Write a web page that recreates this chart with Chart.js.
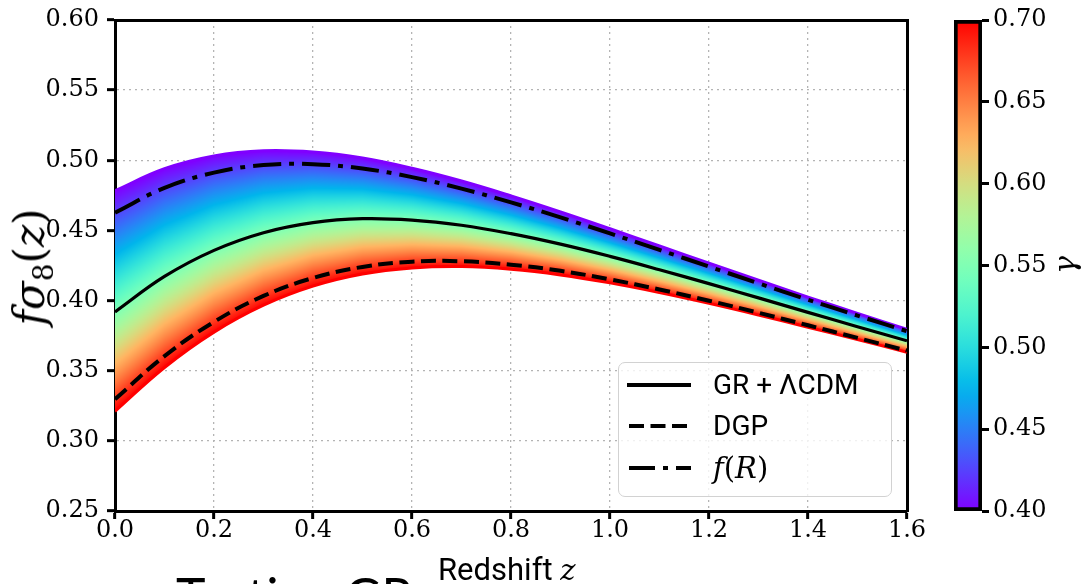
<!DOCTYPE html>
<html>
<head>
<meta charset="utf-8">
<script src="https://cdn.jsdelivr.net/npm/chart.js@4.4.1/dist/chart.umd.min.js"></script>
<style>
html,body{margin:0;padding:0;background:#fff;}
#wrap{position:relative;width:1082px;height:584px;overflow:hidden;background:#fff;}
canvas{position:absolute;top:0;}
.slide{position:absolute;left:176px;top:570px;font-family:Lato,"DejaVu Sans",sans-serif;font-size:50px;line-height:50px;color:#000;white-space:nowrap;}
.xtitle{position:absolute;left:432px;top:554px;padding:0 6px 10px 6px;background:#fff;font-family:Roboto,sans-serif;font-size:31px;line-height:31px;color:#000;white-space:nowrap;}
.xtitle i{font-family:"DejaVu Serif",serif;font-style:italic;font-size:29px;}
.ytitle{position:absolute;left:30px;top:267px;transform:translate(-50%,-50%) rotate(-90deg);font-family:"DejaVu Serif",serif;font-size:42px;line-height:42px;color:#000;white-space:nowrap;}
.ytitle sub{font-size:28px;font-style:normal;vertical-align:-9px;line-height:0;}
.cbtitle{position:absolute;left:1065px;top:265px;transform:translate(-50%,-50%) rotate(-90deg);font-family:"DejaVu Serif",serif;font-style:italic;font-size:30px;line-height:30px;color:#000;}
#legend{position:absolute;left:618px;top:362px;width:274px;height:135px;box-sizing:border-box;border:1.5px solid #d2d2d2;border-radius:7px;background:rgba(255,255,255,0.8);}
.lrow{position:absolute;left:0;height:30px;width:270px;}
.lrow svg{position:absolute;left:8px;top:10px;}
.lrow span{position:absolute;left:94px;top:0;font-family:Roboto,sans-serif;font-size:28px;line-height:30px;color:#000;white-space:nowrap;}
.lrow span.math{font-family:"DejaVu Serif",serif;font-size:29px;}
</style>
</head>
<body>
<div id="wrap">
  <div class="slide">Testing GR</div>
  <canvas id="main" width="1082" height="584" style="left:0"></canvas>
  <canvas id="cbar" width="152" height="584" style="left:930px"></canvas>
  <div class="ytitle"><i>f</i><i>σ</i><sub>8</sub>(<i>z</i>)</div>
  <div class="xtitle">Redshift <i>z</i></div>
  <div class="cbtitle">γ</div>
  <div id="legend">
    <div class="lrow" style="top:7px">
      <svg width="64" height="10"><line x1="0" y1="5" x2="64" y2="5" stroke="#000" stroke-width="4"/></svg>
      <span>GR + ΛCDM</span>
    </div>
    <div class="lrow" style="top:48px">
      <svg width="64" height="10"><line x1="2" y1="5" x2="64" y2="5" stroke="#000" stroke-width="4" stroke-dasharray="15 6.5"/></svg>
      <span>DGP</span>
    </div>
    <div class="lrow" style="top:90px">
      <svg width="64" height="10"><line x1="2" y1="5" x2="64" y2="5" stroke="#000" stroke-width="4" stroke-dasharray="26 8 5 8"/></svg>
      <span class="math"><i>f</i>(<i>R</i>)</span>
    </div>
  </div>
</div>
<script>
// ---- data ----
const redshift      = [0.0, 0.1, 0.2, 0.3, 0.4, 0.5, 0.6, 0.7, 0.8, 0.9, 1.0, 1.1, 1.2, 1.3, 1.4, 1.5, 1.6];
const grLCDM        = [0.3919,0.4172,0.4358,0.4484,0.4556,0.4584,0.4574,0.4537,0.4477,0.4402,0.4315,0.4220,0.4121,0.4019,0.3916,0.3814,0.3713];
const dgp           = [0.3297,0.3604,0.3848,0.4033,0.4161,0.4240,0.4277,0.4280,0.4256,0.4212,0.4151,0.4079,0.3999,0.3913,0.3824,0.3734,0.3643];
const fR            = [0.4627,0.4803,0.4912,0.4966,0.4972,0.4941,0.4880,0.4798,0.4700,0.4593,0.4479,0.4361,0.4242,0.4123,0.4006,0.3893,0.3782];
const bandGamma040  = [0.4783,0.4940,0.5031,0.5068,0.5059,0.5016,0.4943,0.4852,0.4746,0.4632,0.4512,0.4389,0.4267,0.4145,0.4025,0.3909,0.3795];
const bandGamma070  = [0.3211,0.3523,0.3775,0.3967,0.4103,0.4189,0.4232,0.4242,0.4223,0.4183,0.4126,0.4057,0.3980,0.3897,0.3810,0.3722,0.3632];
const gammaRange    = [0.40, 0.70];
const xLimits       = [0.0, 1.6];
const yLimits       = [0.25, 0.60];
const seriesLabels  = ['GR + ΛCDM', 'DGP', 'f(R)'];

// matplotlib "rainbow" colormap
function rainbow(x){
  x = Math.min(1, Math.max(0, x));
  const r = Math.min(1, Math.abs(2*x - 0.5));
  const g = Math.sin(Math.PI*x);
  const b = Math.max(0, Math.cos(Math.PI*x/2));
  return [Math.round(r*255), Math.round(g*255), Math.round(b*255)];
}
function cssRainbow(x){ const c = rainbow(x); return 'rgb('+c[0]+','+c[1]+','+c[2]+')'; }

function interp(zv, arr){
  if (zv <= redshift[0]) return arr[0];
  const n = redshift.length;
  if (zv >= redshift[n-1]) return arr[n-1];
  for (let i = 0; i < n-1; i++){
    if (zv >= redshift[i] && zv <= redshift[i+1]){
      const t = (zv - redshift[i])/(redshift[i+1]-redshift[i]);
      return arr[i] + t*(arr[i+1]-arr[i]);
    }
  }
  return arr[n-1];
}

// fill style for the gamma band: colour follows gamma across the band
let bandCache = null;
function bandPattern(chart){
  const area = chart.chartArea, xs = chart.scales.x, ys = chart.scales.y;
  if (!area || !xs || !ys || !(area.right > area.left)) return 'rgba(0,0,0,0)';
  const W = chart.width, H = chart.height;
  const key = [area.left, area.top, area.right, area.bottom, W, H].join(',');
  if (bandCache && bandCache.key === key) return bandCache.pat;
  const off = document.createElement('canvas'); off.width = W; off.height = H;
  const octx = off.getContext('2d');
  const img = octx.createImageData(W, H);
  for (let px = Math.floor(area.left); px < Math.ceil(area.right); px++){
    const zv = xs.getValueForPixel(px + 0.5);
    const top = interp(zv, bandGamma040), bot = interp(zv, bandGamma070);
    const lt = Math.log(top), lb = Math.log(bot);
    const y0 = Math.max(0, Math.floor(ys.getPixelForValue(top)) - 5);
    const y1 = Math.min(H - 1, Math.ceil(ys.getPixelForValue(bot)) + 5);
    for (let py = y0; py <= y1; py++){
      const v = ys.getValueForPixel(py + 0.5);
      const t = v > 0 ? (lt - Math.log(v))/(lt - lb) : 1;
      const c = rainbow(t);
      const i = (py*W + px)*4;
      img.data[i] = c[0]; img.data[i+1] = c[1]; img.data[i+2] = c[2]; img.data[i+3] = 255;
    }
  }
  octx.putImageData(img, 0, 0);
  const pat = chart.ctx.createPattern(off, 'no-repeat');
  bandCache = {key, pat};
  return pat;
}

const pts = arr => redshift.map((z, i) => ({x: z, y: arr[i]}));
const tickFont = {family: 'DejaVu Serif', size: 24, lineHeight: 1};

new Chart(document.getElementById('main'), {
  type: 'line',
  data: {
    datasets: [
      {label: seriesLabels[0], data: pts(grLCDM), borderColor: '#000', borderWidth: 3.2, fill: false},
      {label: seriesLabels[1], data: pts(dgp), borderColor: '#000', borderWidth: 4, borderDash: [15, 6.5], fill: false},
      {label: seriesLabels[2], data: pts(fR), borderColor: '#000', borderWidth: 4, borderDash: [28, 8, 5, 8], fill: false},
      {label: 'γ = 0.40', data: pts(bandGamma040), borderColor: cssRainbow(0), borderWidth: 3, fill: false},
      {label: 'γ = 0.70', data: pts(bandGamma070), borderColor: cssRainbow(1), borderWidth: 3, fill: 3,
       backgroundColor: c => bandPattern(c.chart)}
    ]
  },
  options: {
    responsive: false, animation: false, devicePixelRatio: 1,
    layout: {padding: {left: 0, top: 20, right: 175, bottom: 0}},
    elements: {point: {radius: 0}, line: {tension: 0.4, borderCapStyle: 'butt'}},
    plugins: {legend: {display: false}, tooltip: {enabled: false}},
    scales: {
      x: {
        type: 'linear', min: xLimits[0], max: xLimits[1],
        ticks: {stepSize: 0.2, callback: v => v.toFixed(1), font: tickFont, color: '#000', padding: 0, maxRotation: 0, autoSkip: false},
        grid: {color: '#b4b4b4', lineWidth: 1.3, tickColor: '#000', tickLength: 8, tickWidth: 3},
        border: {color: '#000', width: 3, dash: [2, 4]},
        afterFit: s => { s.height = 73; }
      },
      y: {
        type: 'linear', min: yLimits[0], max: yLimits[1],
        ticks: {stepSize: 0.05, callback: v => v.toFixed(2), font: tickFont, color: '#000', padding: 8},
        grid: {color: '#b4b4b4', lineWidth: 1.3, tickColor: '#000', tickLength: 8, tickWidth: 3},
        border: {color: '#000', width: 3, dash: [2, 4]},
        afterFit: s => { s.width = 115; }
      },
      x2: {
        type: 'linear', position: 'top', min: xLimits[0], max: xLimits[1],
        ticks: {display: false}, grid: {display: false},
        border: {display: true, color: '#000', width: 3},
        afterFit: s => { s.height = 0; }
      },
      y2: {
        type: 'linear', position: 'right', min: yLimits[0], max: yLimits[1],
        ticks: {display: false}, grid: {display: false},
        border: {display: true, color: '#000', width: 3},
        afterFit: s => { s.width = 0; }
      }
    }
  }
});

function cbarGradient(chart){
  const a = chart.chartArea;
  if (!a) return cssRainbow(0.5);
  const g = chart.ctx.createLinearGradient(0, a.bottom, 0, a.top);
  for (let i = 0; i <= 30; i++) g.addColorStop(i/30, cssRainbow(i/30));
  return g;
}

new Chart(document.getElementById('cbar'), {
  type: 'bar',
  data: {
    labels: ['γ'],
    datasets: [{
      data: [[gammaRange[0], gammaRange[1]]],
      backgroundColor: c => cbarGradient(c.chart),
      borderColor: '#000', borderWidth: 4, borderSkipped: false,
      barPercentage: 1, categoryPercentage: 1
    }]
  },
  options: {
    responsive: false, animation: false, devicePixelRatio: 1,
    layout: {padding: {left: 24, top: 20, right: 0, bottom: 73}},
    plugins: {legend: {display: false}, tooltip: {enabled: false}},
    scales: {
      x: {display: false},
      y: {
        position: 'right', min: gammaRange[0], max: gammaRange[1],
        ticks: {stepSize: 0.05, callback: v => v.toFixed(2), font: tickFont, color: '#000', padding: 4},
        grid: {drawOnChartArea: false, tickColor: '#000', tickLength: 7, tickWidth: 3},
        border: {display: false},
        afterFit: s => { s.width = 100; }
      }
    }
  }
});
</script>
</body>
</html>
